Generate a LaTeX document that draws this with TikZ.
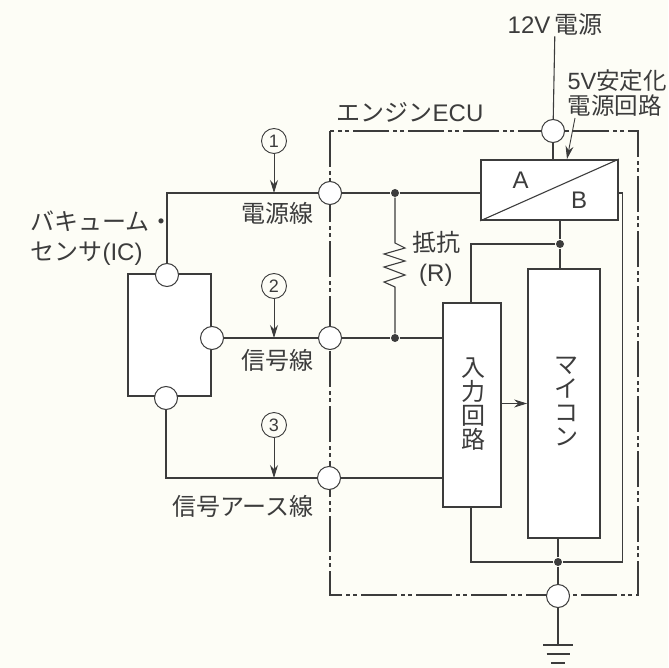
\documentclass[tikz,border=0pt]{standalone}
\usepackage{fontspec}
\setmainfont{Liberation Sans}
\newfontfamily\jpfont{Noto Sans CJK JP}
\usetikzlibrary{arrows.meta, positioning}
\definecolor{paper}{HTML}{FDFDF6}
\definecolor{ink}{HTML}{3C3C3C}

\begin{document}
\begin{tikzpicture}[
    x=1pt, y=-1pt,
    color=ink,
    line width=1.1pt,
    port/.style={circle, draw, fill=white, line width=1pt, inner sep=0pt, minimum size=23pt},
    tag/.style={circle, draw, line width=0.9pt, inner sep=0pt, minimum size=25pt, font=\fontsize{18}{18}\selectfont},
    dot/.style={circle, fill=ink, inner sep=0pt, minimum size=8pt},
    block/.style={rectangle, draw, line width=1.8pt, inner sep=0pt, fill=white},
    lbl/.style={font=\fontsize{24}{25}\selectfont, inner sep=0pt, align=left},
    vlbl/.style={font=\fontsize{24}{24}\selectfont\jpfont, inner sep=0pt, align=center},
    probe/.style={-{Stealth[length=13pt,width=8pt]}, line width=0.9pt},
    frameline/.style={dash pattern=on 36pt off 4pt on 4pt off 3pt on 4pt off 4pt, line width=1.1pt}
  ]
  \useasboundingbox[fill=paper] (0,0) rectangle (668,668);

  % --- ECU FRAME ---
  \coordinate (fnw) at (330,131);
  \coordinate (fse) at (638,595);
  \draw[frameline] (fnw) rectangle (fse);

  % --- BLOCKS ---
  \node[block, minimum width=83pt, minimum height=122pt] (sensor) at (169.5,335) {};
  \node[block, minimum width=137pt, minimum height=60pt] (reg) at (549.5,190) {};
  \node[block, minimum width=58pt, minimum height=204pt] (input) at (472,405) {};
  \node[block, minimum width=72pt, minimum height=269pt] (mcu) at (564,403.5) {};

  % --- PORTS ---
  \node[port] (vin) at (553,131) {};
  \node[port] (gnd) at (558,596) {};
  \node[port] (ecu1) at (330,193) {};
  \node[port] (ecu2) at (330,338) {};
  \node[port] (ecu3) at (329,478) {};
  \node[port] (sen1) at (167,275) {};
  \node[port] (sen2) at (212,338) {};
  \node[port] (sen3) at (166,398) {};

  % --- JUNCTIONS ---
  \node[dot] (j1) at (395,193) {};
  \node[dot] (j2) at (395,338) {};
  \node[dot] (j3) at (560,244) {};
  \node[dot] (j4) at (558,562) {};
  \coordinate (rtop) at (395,243);
  \coordinate (rbot) at (395,287);
  \coordinate (bend) at (622.5,193);
  \coordinate (intop) at (471,303);
  \coordinate (inbot) at (471,507);
  \coordinate (sig) at (0,403.5);
  \coordinate (regtail) at (575,118);
  \coordinate (reghead) at (567,159);

  % --- TAGS ---
  \node[tag] (t1) at (274,141) {1};
  \node[tag] (t2) at (274,286) {2};
  \node[tag] (t3) at (274,425) {3};

  % --- LABELS ---
  \node[lbl] (vcc) at (555,25) {12V{\jpfont\,電源}};
  \node[lbl, anchor=north west, font=\fontsize{23.5}{25}\selectfont] (regname) at (567,69) {5V{\jpfont 安定化}\\{\jpfont 電源回路}};
  \node[lbl] (ecuname) at (410,112) {{\jpfont エンジン}ECU};
  \node[lbl] (wire1) at (277,213) {\jpfont 電源線};
  \node[lbl] (wire2) at (277,360) {\jpfont 信号線};
  \node[lbl] (wire3) at (243,506) {\jpfont 信号アース線};
  \node[lbl, anchor=north west, font=\fontsize{24}{30}\selectfont] (senname) at (30,210) {{\jpfont バキューム・}\\{\jpfont センサ}(IC)};
  \node[lbl, anchor=north west, font=\fontsize{24}{30}\selectfont] (resname) at (412,231) {{\jpfont 抵抗}\\\;(R)};
  \node[lbl] (parta) at (520.5,180) {A};
  \node[lbl] (partb) at (579,200) {B};
  \node[vlbl] (inname) at (473,404) {入\\力\\回\\路};
  \node[vlbl] (mcuname) at (566,402) {マ\\イ\\コ\\ン};

  % --- WIRES ---
  \draw (reg.south west) -- (reg.north east);
  \draw (vcc) -- (vin);
  \draw (vin) -- (vin |- reg.north);
  \draw (sen1) |- (ecu1);
  \draw (ecu1) -- (j1);
  \draw (j1) -- (j1 -| reg.west);
  \draw (sen2) -- (ecu2);
  \draw (ecu2) -- (j2);
  \draw (j2) -- (j2 -| input.west);
  \draw (sen3) |- (ecu3);
  \draw (ecu3) -- (ecu3 -| input.west);
  \draw (j1) -- (rtop) -- (405,248) -- (384,254) -- (405,261) -- (384,267)
        -- (405,275) -- (384,282) -- (rbot) -- (j2);
  \draw (j3 |- reg.south) -- (j3);
  \draw (j3) -- (j3 |- mcu.north);
  \draw (j3) -| (intop);
  \draw (bend -| reg.east) -- (bend) |- (j4);
  \draw (j4) -- (j4 |- mcu.south);
  \draw (j4) -| (inbot);
  \draw (j4) -- (gnd);

  % --- GROUND ---
  \coordinate (g1) at (558,645);
  \coordinate (g2) at (558,654);
  \coordinate (g3) at (558,663);
  \draw (gnd) -- (g1);
  \draw[line width=1.5pt] ([xshift=-15pt]g1) -- ([xshift=15pt]g1);
  \draw[line width=1.5pt] ([xshift=-11.5pt]g2) -- ([xshift=11.5pt]g2);
  \draw[line width=1.5pt] ([xshift=-7pt]g3) -- ([xshift=7pt]g3);

  % --- ARROWS ---
  \draw[probe] (t1) -- (t1 |- ecu1);
  \draw[probe] (t2) -- (t2 |- ecu2);
  \draw[probe] (t3) -- (t3 |- ecu3);
  \draw[probe] (input.east |- sig) -- (mcu.west |- sig);
  \draw[probe] (regtail) -- (reghead);

\end{tikzpicture}
\end{document}
